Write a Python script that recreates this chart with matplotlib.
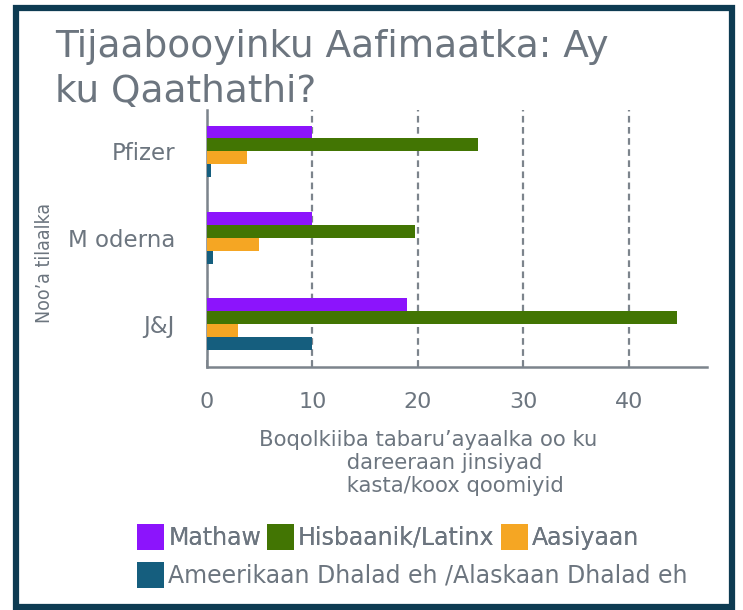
import numpy as np
import matplotlib
matplotlib.use("Agg")
from matplotlib import pyplot as plt
from matplotlib.patches import Rectangle

# vaccine makers and share of doses by race/ethnicity (%)
brands = ["J&J", "M oderna", "Pfizer"]
mathaw = [19, 10, 10]
hisbaanik = [44.6, 19.7, 25.7]
aasiyaan = [2.9, 4.9, 3.8]
ameerikaan = [10, 0.6, 0.4]

series_names = ["Mathaw", "Hisbaanik/Latinx", "Aasiyaan",
                "Ameerikaan Dhalad eh /Alaskaan Dhalad eh"]
colors = ["#8c14fc", "#427503", "#f5a623", "#155e7e"]
xticks = [0, 10, 20, 30, 40]

txt = "#6c757f"
axc = "#7c848c"

fig = plt.figure(figsize=(7.43, 6.10), dpi=100)
ax = fig.add_axes([207/743, 1-367/610, 500/743, 257/610])

y = np.arange(len(brands))
h = 0.15
offs = [1.5*h, 0.5*h, -0.5*h, -1.5*h]
bars = []
for vals, off, c, name in zip([mathaw, hisbaanik, aasiyaan, ameerikaan], offs, colors, series_names):
    b = ax.barh(y + off, vals, height=h, color=c, label=name, zorder=3)
    bars.append(b)

ax.set_xlim(0, 47.4)
ax.set_ylim(-0.5, 2.48)
ax.set_xticks(xticks)
ax.set_yticks(y)
ax.set_yticklabels(brands)
ax.grid(axis="x", color=axc, linestyle=(0, (3, 2)), linewidth=1.6, zorder=1)
for s in ["top", "right"]:
    ax.spines[s].set_visible(False)
for s in ["left", "bottom"]:
    ax.spines[s].set_color(axc)
    ax.spines[s].set_linewidth(1.8)
ax.tick_params(axis="x", direction="in", length=5, width=1.2, color=axc,
               labelsize=16, labelcolor=txt, pad=18)
ax.tick_params(axis="y", length=0, labelsize=16.5, labelcolor=txt, pad=23)

ax.set_xlabel("Boqolkiiba tabaru\u2019ayaalka oo ku\n"
              "             dareeraan jinsiyad\n"
              "             kasta/koox qoomiyid",
              fontsize=15.2, color=txt, multialignment="left", linespacing=1.2)
ax.xaxis.set_label_coords(0.442, -0.245)

fig.text(45/743, 1-263/610, "Noo\u2019a tilaalka", rotation=90, fontsize=14,
         color=txt, ha="center", va="center", fontstretch="condensed")

fig.text(55/743, 1-57/610, "Tijaabooyinku Aafimaatka: Ay",
         fontsize=27, color=txt, ha="left", va="baseline")
fig.text(55/743, 1-102/610, "ku Qaathathi?",
         fontsize=27, color=txt, ha="left", va="baseline")

leg_kw = dict(frameon=False, fontsize=17, labelcolor=txt, loc="upper left",
              handlelength=1.15, handleheight=1.3, handletextpad=0.17,
              borderaxespad=0, borderpad=0)
leg1 = fig.legend(handles=bars[:3], labels=series_names[:3], ncol=3,
                  bbox_to_anchor=(137/743, 1-524/610), columnspacing=0.25,
                  **leg_kw)
fig.legend(handles=bars[3:], labels=series_names[3:],
           bbox_to_anchor=(137/743, 1-562/610), **leg_kw)
fig.add_artist(leg1)

fig.patches.append(Rectangle((16/743, 1-607/610), 716/743, 599/610,
                             transform=fig.transFigure, fill=False,
                             edgecolor="#0d3b52", linewidth=4.5))

fig.savefig("out.png", dpi=100)
